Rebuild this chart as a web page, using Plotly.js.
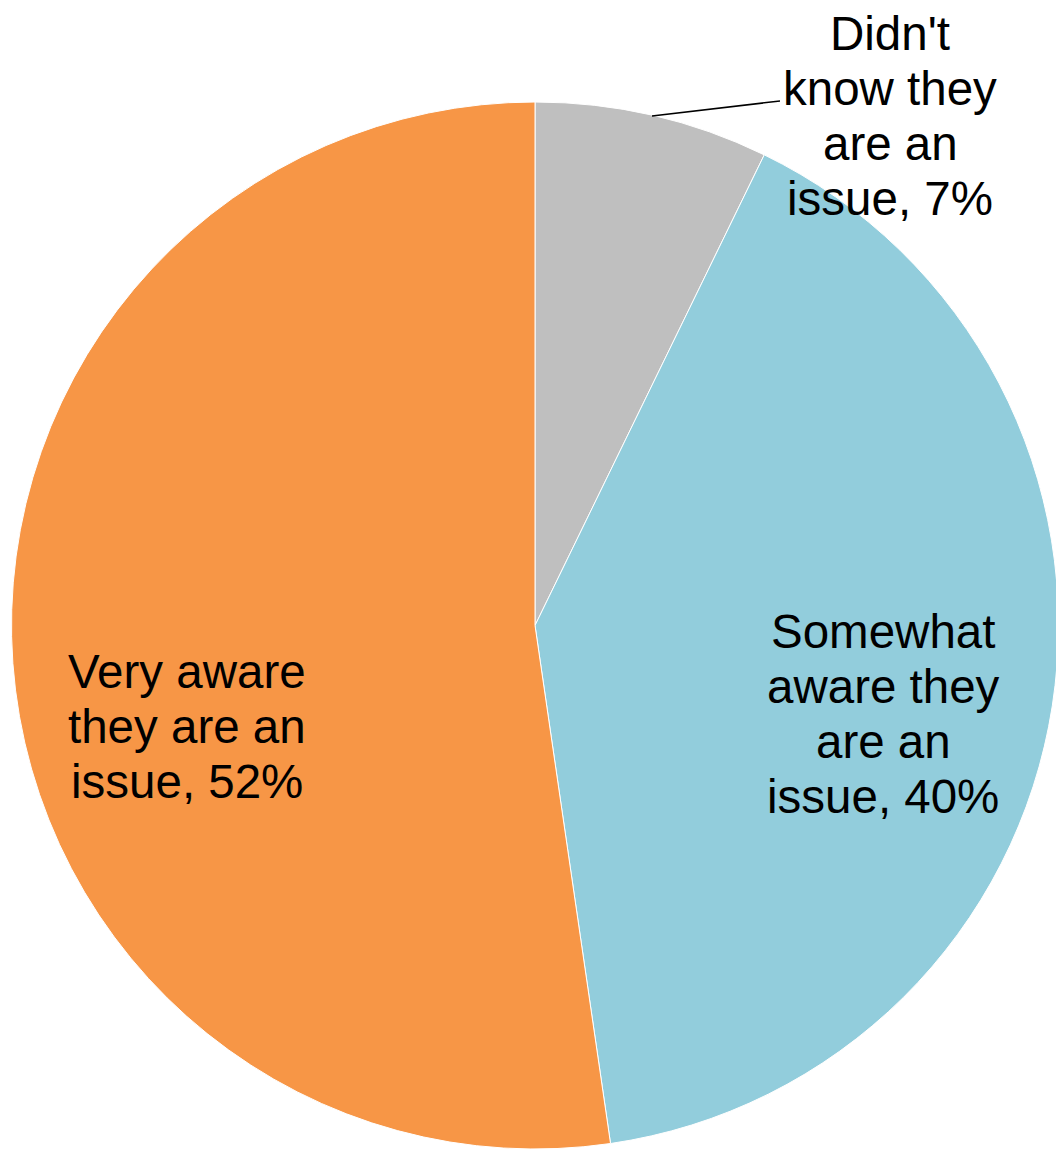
<!DOCTYPE html>
<html>
<head>
<meta charset="utf-8">
<script src="https://cdn.plot.ly/plotly-3.0.1.min.js"></script>
<style>html,body{margin:0;padding:0;overflow:hidden;background:#fff;}</style>
</head>
<body>
<div id="chart" style="width:1060px;height:1149px;"></div>
<script>
const categories = ["Didn't know they are an issue", "Somewhat aware they are an issue", "Very aware they are an issue"];
const labelLines = [
  ["Didn't", "know they", "are an", "issue"],
  ["Somewhat", "aware they", "are an", "issue"],
  ["Very aware", "they are an", "issue"]
];
const values = [7.2, 40.4, 52.2];
const colors = ["#BFBFBF", "#92CDDC", "#F79646"];

const W = 1060, H = 1149;
const px = x => x / W;
const py = y => 1 - y / H;

// label layout (pixels): centre x, centre y of first line, line spacing
const labelX = [890, 883, 186.5];
const labelFirstY = [33.5, 631.5, 671.5];
const lineStep = 55;

const annotations = [];
categories.forEach((c, i) => {
  const lines = labelLines[i].slice();
  lines[lines.length - 1] = lines[lines.length - 1] + ', ' + Math.round(values[i]) + '%';
  lines.forEach((t, k) => {
    annotations.push({
      xref: 'paper', yref: 'paper',
      x: px(labelX[i]), y: py(labelFirstY[i] + k * lineStep),
      xanchor: 'center', yanchor: 'middle',
      text: t, showarrow: false, align: 'center',
      font: {family: 'Liberation Sans, Arial, sans-serif', size: 47.5, color: '#000'}
    });
  });
});

const data = [{
  type: 'pie',
  labels: categories,
  values: values,
  sort: false,
  direction: 'clockwise',
  rotation: 0,
  marker: {colors: colors, line: {color: '#ffffff', width: 1}},
  textinfo: 'none',
  hoverinfo: 'label+percent',
  domain: {x: [11 / W, 1059 / W], y: [0, 1 - 102 / H]}
}];

const layout = {
  width: W, height: H,
  margin: {l: 0, r: 0, t: 0, b: 0},
  paper_bgcolor: '#fff',
  showlegend: false,
  annotations: annotations,
  shapes: [{
    type: 'line', xref: 'paper', yref: 'paper',
    x0: px(652), y0: py(116), x1: px(780), y1: py(101),
    line: {color: '#000', width: 1.5}
  }]
};

Plotly.newPlot('chart', data, layout, {displayModeBar: false, staticPlot: true});
</script>
</body>
</html>
